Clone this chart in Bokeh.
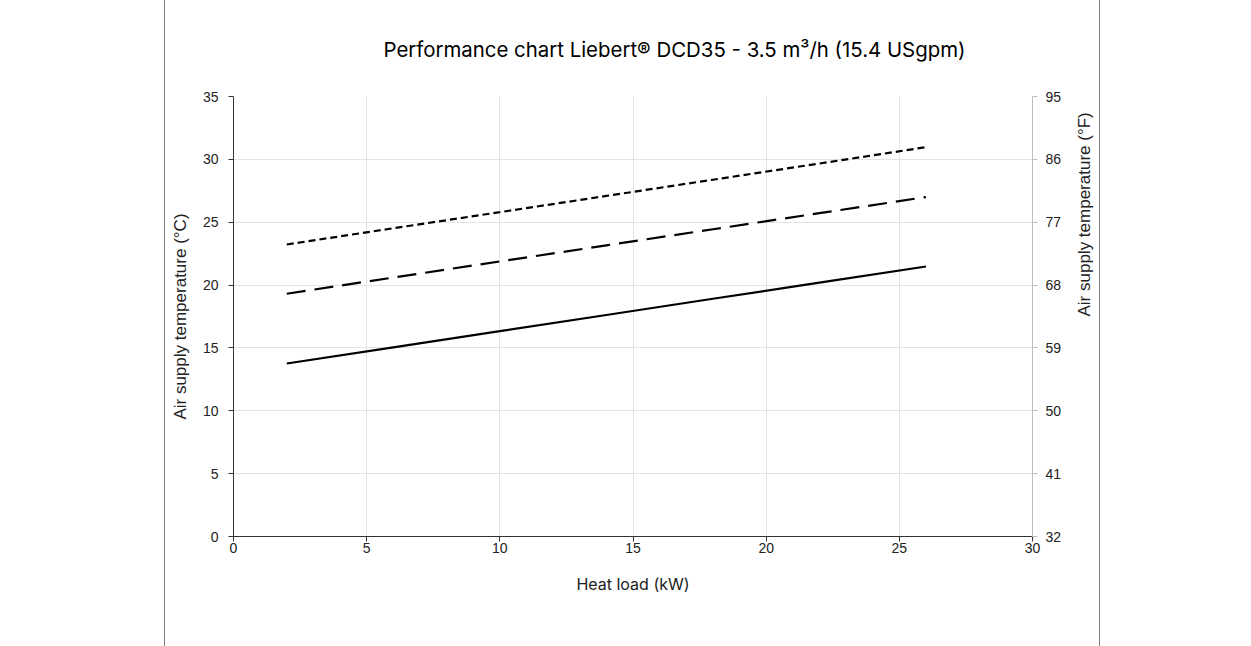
import math
from bokeh.plotting import figure
from bokeh.models import (LinearAxis, Range1d, FixedTicker, Legend, LegendItem, Title)
from bokeh.embed import file_html
from bokeh.resources import INLINE

# ---- data ----
heat_load = [2, 6, 10, 14, 18, 22, 26]
cw12 = [13.76, 15.05, 16.33, 17.62, 18.91, 20.19, 21.48]
cw18 = [19.31, 20.60, 21.88, 23.16, 24.44, 25.72, 27.00]
cw22 = [23.23, 24.52, 25.80, 27.09, 28.38, 29.67, 30.97]
x_ticks = [0, 5, 10, 15, 20, 25, 30]
y_ticks_c = [0, 5, 10, 15, 20, 25, 30, 35]
y_ticks_f = [32, 41, 50, 59, 68, 77, 86, 95]
labels = ["12 °C (53.6 °F) cw supply temperature",
          "18 °C (64.4 °F) cw supply temperature",
          "22 °C (71.6 °F) cw supply temperature"]
title_text = "Performance chart Liebert® DCD35 - 3.5 m³/h (15.4 USgpm)"

TXT = "#222222"
frame_bg = ("linear-gradient(to right, transparent 164px, #808080 164px, #808080 165px, "
            "transparent 165px, transparent 1099px, #808080 1099px, #808080 1100px, "
            "transparent 1100px)")
p = figure(frame_width=799, frame_height=440, output_backend="svg", toolbar_location=None,
           x_range=Range1d(0, 30), y_range=Range1d(0, 35),
           min_border_left=233, min_border_right=219, min_border_top=96, min_border_bottom=110,
           background_fill_color="white", border_fill_color="white", border_fill_alpha=0,
           styles={"background": frame_bg})
p.outline_line_color = None
p.extra_y_ranges = {"f": Range1d(32, 95)}

# grids
p.xgrid.ticker = FixedTicker(ticks=[5, 10, 15, 20, 25])
p.ygrid.ticker = FixedTicker(ticks=[5, 10, 15, 20, 25, 30])
p.xgrid.grid_line_color = "#e4e4e4"
p.ygrid.grid_line_color = "#e4e4e4"

def style_axis(ax, line_color):
    ax.axis_line_color = line_color
    ax.major_tick_line_color = line_color
    ax.major_tick_out = 5
    ax.major_tick_in = 0
    ax.minor_tick_line_color = None
    ax.major_label_text_font = "Liberation Sans"
    ax.major_label_text_font_size = "14px"
    ax.major_label_text_color = TXT
    ax.axis_label_text_color = TXT
    ax.axis_label_text_font_style = "normal"

xa = p.xaxis[0]
xa.ticker = FixedTicker(ticks=x_ticks)
style_axis(xa, "#333333")
xa.major_label_standoff = 1
xa.axis_label = "Heat load (kW)"
xa.axis_label_text_font = "Inter"
xa.axis_label_text_font_size = "16px"
xa.axis_label_standoff = 18

ya = p.yaxis[0]
ya.ticker = FixedTicker(ticks=y_ticks_c)
style_axis(ya, "#333333")
ya.major_label_standoff = 10
ya.axis_label = "Air supply temperature (°C)"
ya.axis_label_text_font = "Liberation Sans"
ya.axis_label_text_font_size = "17px"
ya.axis_label_standoff = 10

ra = LinearAxis(y_range_name="f", ticker=FixedTicker(ticks=y_ticks_f))
style_axis(ra, "#bdbdbd")
ra.major_label_standoff = 8
ra.axis_label = "Air supply temperature (°F)"
ra.axis_label_text_font = "Liberation Sans"
ra.axis_label_text_font_size = "17px"
ra.axis_label_standoff = 20
ra.axis_label_text_align = "center"
if hasattr(ra, "axis_label_orientation"):
    ra.axis_label_orientation = math.pi / 2
p.add_layout(ra, "right")

r1 = p.line(heat_load, cw12, line_color="black", line_width=2.2)
r2 = p.line(heat_load, cw18, line_color="black", line_width=2.2, line_dash="19 9")
r3 = p.line(heat_load, cw22, line_color="black", line_width=2.2, line_dash="7 4")

legend = Legend(items=[LegendItem(label=labels[0], renderers=[r1]),
                       LegendItem(label=labels[1], renderers=[r2]),
                       LegendItem(label=labels[2], renderers=[r3])],
                orientation="horizontal", location="top_center",
                glyph_width=35, glyph_height=13, label_height=13, label_standoff=2,
                spacing=10, padding=5, margin=27,
                label_text_font="Liberation Sans", label_text_font_size="13px",
                label_text_color=TXT, border_line_color="#808080", border_line_width=1,
                background_fill_color="white", background_fill_alpha=1)
p.add_layout(legend, "below")

title = Title(text=title_text, align="left", offset=150,
              text_font="Inter", text_font_size="20.4px", text_font_style="normal",
              text_color="black")
if hasattr(title, "standoff"):
    title.standoff = 69
p.add_layout(title, "above")

open("out.html", "w").write(file_html(p, INLINE))
